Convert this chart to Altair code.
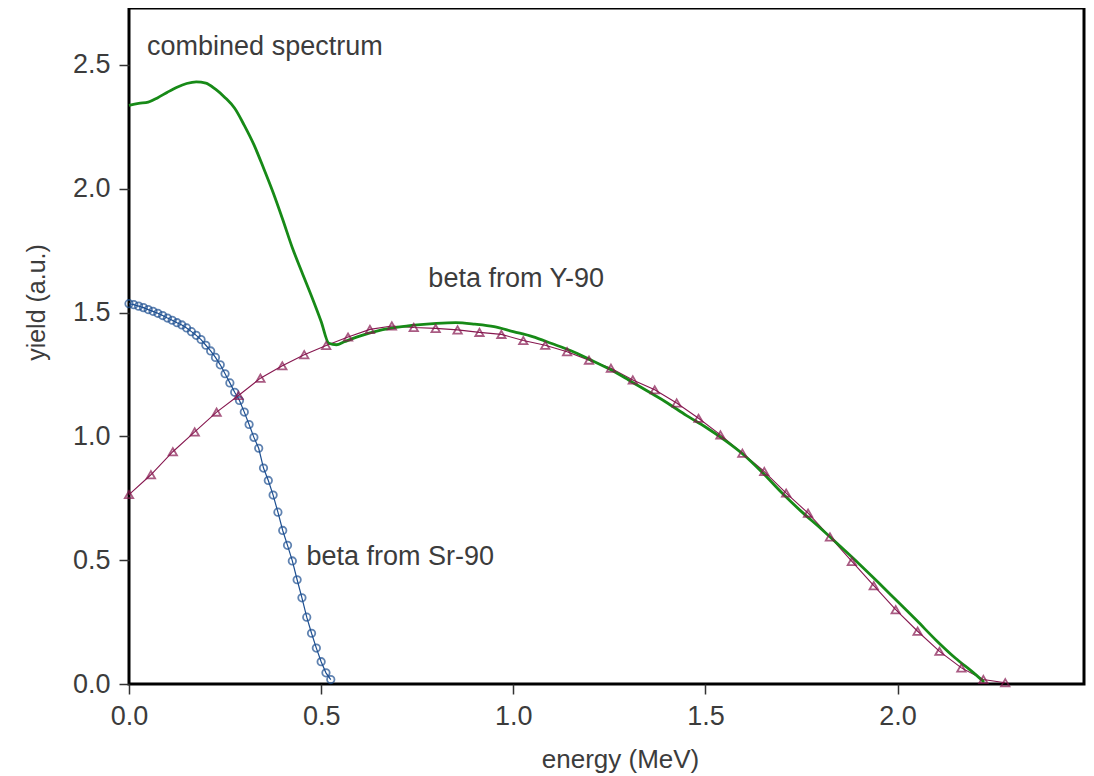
import altair as alt
import pandas as pd

# ---- data ----
sr_energy = [0.0, 0.0125, 0.025, 0.0375, 0.05, 0.0625, 0.075, 0.0875, 0.1, 0.1125,
             0.125, 0.1375, 0.15, 0.1625, 0.175, 0.1875, 0.2, 0.2125, 0.225, 0.2375,
             0.25, 0.2625, 0.275, 0.2875, 0.3, 0.3125, 0.325, 0.3375, 0.35, 0.3625,
             0.375, 0.3875, 0.4, 0.4125, 0.425, 0.4375, 0.45, 0.4625, 0.475, 0.4875,
             0.5, 0.5125, 0.525]
sr_yield = [1.536, 1.532, 1.526, 1.520, 1.512, 1.505, 1.497, 1.488, 1.478, 1.469,
            1.459, 1.450, 1.438, 1.423, 1.408, 1.391, 1.368, 1.345, 1.319, 1.289,
            1.253, 1.216, 1.178, 1.145, 1.098, 1.048, 0.996, 0.952, 0.872, 0.822,
            0.763, 0.694, 0.620, 0.560, 0.497, 0.421, 0.348, 0.270, 0.205, 0.145,
            0.090, 0.045, 0.018]

y90_energy = [0.0, 0.057, 0.114, 0.171, 0.228, 0.285, 0.342, 0.399, 0.456, 0.513,
              0.570, 0.627, 0.684, 0.741, 0.798, 0.855, 0.912, 0.969, 1.026, 1.083,
              1.140, 1.197, 1.254, 1.311, 1.368, 1.425, 1.482, 1.539, 1.596, 1.653,
              1.710, 1.767, 1.824, 1.881, 1.938, 1.995, 2.052, 2.109, 2.166, 2.223,
              2.280]
y90_yield = [0.765, 0.845, 0.938, 1.018, 1.098, 1.165, 1.235, 1.285, 1.330, 1.367,
             1.401, 1.432, 1.446, 1.440, 1.436, 1.430, 1.420, 1.412, 1.387, 1.368,
             1.342, 1.308, 1.275, 1.228, 1.188, 1.135, 1.073, 1.006, 0.932, 0.858,
             0.771, 0.690, 0.594, 0.495, 0.397, 0.300, 0.213, 0.132, 0.065, 0.018,
             0.005]

comb_energy = [0.0, 0.025, 0.05, 0.075, 0.1, 0.125, 0.15, 0.175, 0.2, 0.225,
               0.25, 0.275, 0.3, 0.325, 0.35, 0.375, 0.4, 0.425, 0.45, 0.475,
               0.5, 0.52, 0.54, 0.56, 0.6, 0.65, 0.7, 0.75, 0.8, 0.85,
               0.9, 0.95, 1.0, 1.05, 1.1, 1.15, 1.2, 1.25, 1.3, 1.35,
               1.4, 1.45, 1.5, 1.55, 1.6, 1.65, 1.7, 1.75, 1.8, 1.85,
               1.9, 1.95, 2.0, 2.05, 2.1, 2.15, 2.2, 2.225]
comb_yield = [2.337, 2.345, 2.350, 2.368, 2.390, 2.410, 2.425, 2.432, 2.427, 2.402,
              2.368, 2.325, 2.256, 2.178, 2.084, 1.985, 1.876, 1.762, 1.663, 1.566,
              1.464, 1.376, 1.370, 1.382, 1.405, 1.427, 1.441, 1.450, 1.456, 1.459,
              1.453, 1.443, 1.423, 1.403, 1.375, 1.346, 1.310, 1.272, 1.228, 1.182,
              1.136, 1.085, 1.038, 0.985, 0.925, 0.851, 0.770, 0.696, 0.628, 0.557,
              0.485, 0.410, 0.333, 0.256, 0.177, 0.105, 0.042, 0.008]

label_text = ["combined spectrum", "beta from Y-90", "beta from Sr-90"]
label_energy = [0.047, 0.779, 0.462]
label_yield = [2.542, 1.603, 0.482]

x_ticks = [0.0, 0.5, 1.0, 1.5, 2.0]
y_ticks = [0.0, 0.5, 1.0, 1.5, 2.0, 2.5]

sr = pd.DataFrame({"energy": sr_energy, "yield": sr_yield})
y90 = pd.DataFrame({"energy": y90_energy, "yield": y90_yield})
comb = pd.DataFrame({"energy": comb_energy, "yield": comb_yield})
labels = pd.DataFrame({"energy": label_energy, "yield": label_yield, "text": label_text})

FONT = "Liberation Sans"
TXT = "#3c3c3c"
BLUE = "#1d4f91"
MAROON = "#86174f"
GREEN = "#178a17"

x = alt.X(
    "energy:Q",
    title="energy (MeV)",
    scale=alt.Scale(domain=[0, 2.485], nice=False, zero=False),
    axis=alt.Axis(
        values=x_ticks, format=".1f", grid=False, domain=False, labelFlush=False,
        tickSize=10, tickWidth=1.5, tickColor="#333333",
        labelFont=FONT, labelFontSize=27, labelColor=TXT, labelPadding=9,
        titleFont=FONT, titleFontSize=26, titleFontWeight="normal", titleColor=TXT,
        titleX=491, titleY=75, titleAlign="center", titleBaseline="middle",
    ),
)
y = alt.Y(
    "yield:Q",
    title="yield (a.u.)",
    scale=alt.Scale(domain=[0, 2.73], nice=False),
    axis=alt.Axis(
        values=y_ticks, format=".1f", grid=False, domain=False, labelFlush=False,
        tickSize=10, tickWidth=1.5, tickColor="#333333",
        labelFont=FONT, labelFontSize=27, labelColor=TXT, labelPadding=9,
        titleFont=FONT, titleFontSize=25, titleFontWeight="normal", titleColor=TXT,
        titleX=-93, titleY=294, titleAngle=270, titleAlign="center", titleBaseline="middle",
    ),
)

sr_line = alt.Chart(sr).mark_line(color=BLUE, strokeWidth=1.2).encode(x=x, y=y)
sr_pts = alt.Chart(sr).mark_point(shape="circle", color=BLUE, filled=False,
                                  size=55, strokeWidth=1.8).encode(x=x, y=y)
y90_line = alt.Chart(y90).mark_line(color=MAROON, strokeWidth=1.1).encode(x=x, y=y)
comb_line = alt.Chart(comb).mark_line(color=GREEN, strokeWidth=2.8,
                                      interpolate="monotone").encode(x=x, y=y)
y90_pts = alt.Chart(y90).mark_point(shape="triangle-up", color=MAROON, filled=False,
                                    size=70, strokeWidth=1.8).encode(x=x, y=y)
txt = alt.Chart(labels).mark_text(align="left", baseline="alphabetic", font=FONT,
                                  fontSize=27, color=TXT).encode(x=x, y=y, text="text:N")

chart = alt.layer(sr_line, sr_pts, y90_line, comb_line, y90_pts, txt).properties(
    width=955, height=676,
    autosize=alt.AutoSizeParams(type="none"),
    padding={"left": 121, "top": 0, "right": 2, "bottom": 90},
    background="white",
).configure_view(stroke="black", strokeWidth=3)

chart.save("out.html", embed_options={"renderer": "svg", "actions": False})
